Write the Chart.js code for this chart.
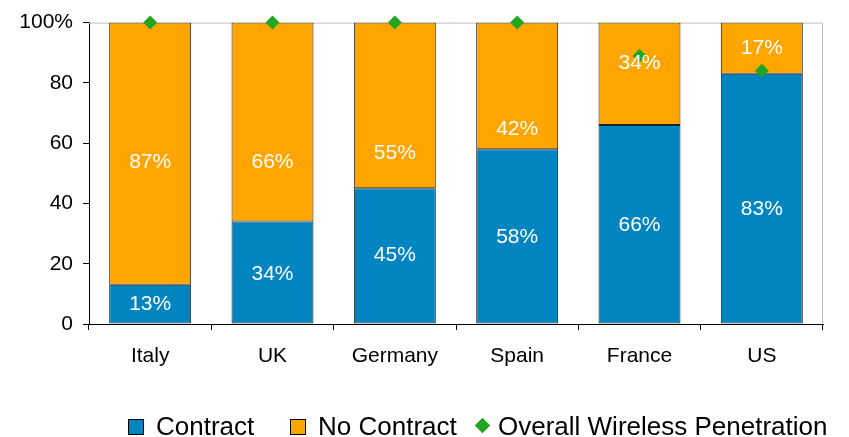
<!DOCTYPE html>
<html>
<head>
<meta charset="utf-8">
<title>Wireless contract share</title>
<script src="https://cdn.jsdelivr.net/npm/chart.js@4.4.0/dist/chart.umd.min.js"></script>
<style>
  body { margin: 0; background: #fff; font-family: "Liberation Sans", Arial, sans-serif; }
  #wrap { position: relative; width: 849px; height: 437px; }
  #legend { position: absolute; left: 0; top: 0; width: 849px; height: 437px; pointer-events: none; }
  #legend .item { position: absolute; font-size: 26px; line-height: 30px; top: 411px; color: #000; }
  #legend .box { position: absolute; top: 419px; width: 14px; height: 14px; border: 1px solid #000; }
  #legend .dia { position: absolute; top: 420px; width: 11px; height: 11px; background: #22a522; transform: rotate(45deg); }
</style>
</head>
<body>
<div id="wrap">
  <canvas id="chart"></canvas>
  <div id="legend">
    <div class="box" style="left:128px;background:#0085c0"></div>
    <div class="item" style="left:156px">Contract</div>
    <div class="box" style="left:290px;background:#ffa500"></div>
    <div class="item" style="left:318px">No Contract</div>
    <div class="dia" style="left:477px"></div>
    <div class="item" style="left:498px">Overall Wireless Penetration</div>
  </div>
</div>
<script>
const categories = ['Italy', 'UK', 'Germany', 'Spain', 'France', 'US'];
const contract = [13, 34, 45, 58, 66, 83];
const noContract = [87, 66, 55, 42, 34, 17];
const penetration = [100, 100, 100, 100, 89, 84];
const yTicks = [0, 20, 40, 60, 80, 100];

const FONT = '"Liberation Sans", Arial, sans-serif';

// grey frame on top and right of the plot
const frame = {
  id: 'frame',
  beforeDatasetsDraw(chart) {
    const { ctx, chartArea: a } = chart;
    ctx.save();
    ctx.strokeStyle = '#bfbfbf';
    ctx.lineWidth = 1;
    ctx.beginPath();
    ctx.moveTo(a.left, a.top + 0.5);
    ctx.lineTo(a.right - 0.5, a.top + 0.5);
    ctx.lineTo(a.right - 0.5, a.bottom);
    ctx.stroke();
    ctx.restore();
  }
};

// percentage labels inside the bars
const barLabels = {
  id: 'barLabels',
  afterDatasetsDraw(chart, args, opts) {
    const { ctx } = chart;
    const y = chart.scales.y;
    ctx.save();
    ctx.fillStyle = '#fff';
    ctx.font = '21px ' + FONT;
    ctx.textAlign = 'center';
    ctx.textBaseline = 'middle';
    [0, 1].forEach(di => {
      const meta = chart.getDatasetMeta(di);
      const vals = chart.data.datasets[di].data;
      const at = opts.anchors[di];
      meta.data.forEach((bar, i) => {
        ctx.fillText(vals[i] + '%', bar.x, y.getPixelForValue(at[i]) + 1);
      });
    });
    ctx.restore();
  }
};

new Chart(document.getElementById('chart'), {
  type: 'bar',
  data: {
    labels: categories,
    datasets: [
      {
        label: 'Contract',
        data: contract,
        backgroundColor: '#0085c0',
        borderColor: '#222',
        borderWidth: 1,
        borderSkipped: false,
        barPercentage: 0.67,
        categoryPercentage: 1,
        stack: 'share',
        order: 2
      },
      {
        label: 'No Contract',
        data: noContract,
        backgroundColor: '#ffa500',
        borderColor: '#222',
        borderWidth: 1,
        borderSkipped: false,
        barPercentage: 0.67,
        categoryPercentage: 1,
        stack: 'share',
        order: 2
      },
      {
        type: 'line',
        label: 'Overall Wireless Penetration',
        data: penetration,
        showLine: false,
        pointStyle: 'rectRot',
        pointRadius: 7,
        pointBackgroundColor: '#22a522',
        pointBorderWidth: 0,
        stack: 'pen',
        clip: false,
        order: 1
      }
    ]
  },
  options: {
    responsive: true,
    maintainAspectRatio: false,
    animation: false,
    layout: { padding: { top: 20, right: 26, left: 0, bottom: 53 } },
    plugins: {
      legend: { display: false },
      tooltip: { enabled: false },
      barLabels: {
        anchors: [
          [7, 17, 23, 29, 33, 38.5],
          [54, 54, 57, 65, 87, 92]
        ]
      }
    },
    scales: {
      x: {
        stacked: true,
        grid: { offset: true, drawOnChartArea: false, color: '#000', tickLength: 6 },
        border: { color: '#000' },
        ticks: { color: '#000', font: { size: 21, family: FONT }, padding: 14 },
        afterFit(scale) { scale.height = 60; }
      },
      y: {
        stacked: true,
        min: 0,
        max: 100,
        afterBuildTicks(scale) { scale.ticks = yTicks.map(v => ({ value: v })); },
        grid: { drawOnChartArea: false, color: '#000', tickLength: 6 },
        border: { color: '#000' },
        ticks: {
          color: '#000',
          padding: 10,
          font: { size: 21, family: FONT },
          callback: v => v === 100 ? '100%' : v
        },
        afterFit(scale) { scale.width = 89; }
      }
    }
  },
  plugins: [frame, barLabels]
});
</script>
</body>
</html>
